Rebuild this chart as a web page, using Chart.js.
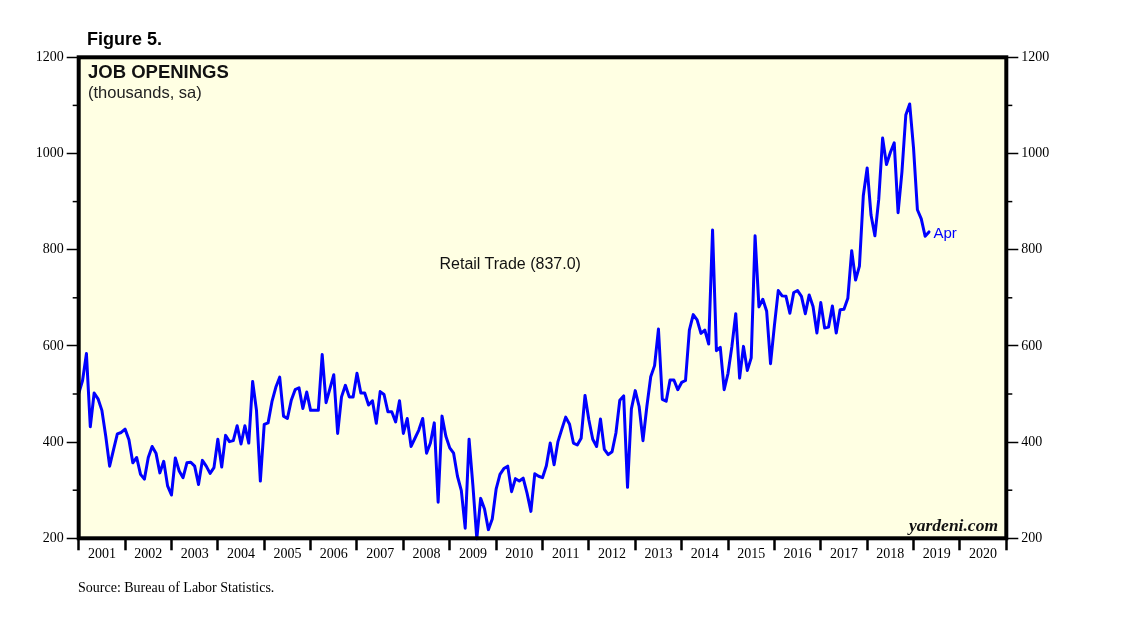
<!DOCTYPE html>
<html><head><meta charset="utf-8">
<script src="https://cdn.jsdelivr.net/npm/chart.js@4"></script>
<style>
html,body{margin:0;padding:0;background:#fff;}
#wrap{position:relative;width:1138px;height:621px;overflow:hidden;background:#fff;}
#c{position:absolute;left:0;top:0;}
.t{position:absolute;white-space:nowrap;line-height:1;}
.sans{font-family:'Liberation Sans',Arial,sans-serif;}
.serif{font-family:'Liberation Serif','Times New Roman',serif;}
</style></head><body>
<div id="wrap">
<canvas id="c" width="1138" height="621"></canvas>
<div class="t sans" style="left:87px;top:30px;font-size:18px;font-weight:bold;color:#000;">Figure 5.</div>
<div class="t sans" style="left:88px;top:62.5px;font-size:18.5px;font-weight:bold;color:#111;">JOB OPENINGS</div>
<div class="t sans" style="left:88px;top:83.5px;font-size:16.5px;color:#222;">(thousands, sa)</div>
<div class="t sans" style="left:439.5px;top:256.3px;font-size:16px;color:#111;">Retail Trade (837.0)</div>
<div class="t sans" style="left:933.5px;top:224.6px;font-size:15px;color:#0000ff;">Apr</div>
<div class="t serif" style="right:140px;top:517.3px;font-size:17.5px;font-weight:bold;font-style:italic;color:#111;">yardeni.com</div>
<div class="t serif" style="left:78px;top:580.5px;font-size:14px;color:#000;">Source: Bureau of Labor Statistics.</div>
</div>
<script>
// Year labels on the x axis (one per year, centred between year ticks)
const yearLabels = ['2001','2002','2003','2004','2005','2006','2007','2008','2009','2010',
                    '2011','2012','2013','2014','2015','2016','2017','2018','2019','2020'];
// Monthly job openings, retail trade (thousands, sa), Dec 2000 .. Apr 2019
const jobOpenings = [
  501, 528, 584, 432, 502, 490, 466, 412, 350, 384, 417, 420,
  427, 405, 357, 368, 333, 323, 368, 391, 377, 336, 360, 309,
  290, 367, 340, 326, 357, 358, 350, 312, 362, 350, 335, 347,
  406, 348, 414, 401, 403, 434, 396, 434, 398, 526, 466, 319,
  437, 440, 484, 514, 535, 454, 449, 487, 509, 513, 470, 504,
  466, 466, 466, 582, 482, 511, 540, 418, 494, 518, 494, 494,
  543, 502, 502, 477, 486, 439, 505, 499, 463, 463, 442, 486,
  418, 449, 391, 408, 425, 449, 377, 398, 440, 275, 454, 412,
  388, 377, 329, 299, 221, 406, 309, 199, 283, 261, 218, 240,
  302, 333, 345, 350, 297, 324, 319, 325, 294, 256, 334, 329,
  326, 351, 398, 353, 401, 427, 452, 437, 398, 394, 408, 497,
  446, 406, 391, 448, 385, 374, 380, 419, 487, 496, 306, 469,
  507, 474, 403, 474, 536, 559, 635, 489, 485, 529, 529, 509,
  524, 528, 633, 665, 654, 626, 633, 604, 841, 590, 597, 509,
  543, 599, 667, 533, 599, 549, 575, 829, 681, 697, 672, 563,
  642, 715, 704, 703, 668, 711, 715, 703, 667, 706, 682, 627,
  690, 637, 639, 683, 627, 675, 676, 699, 798, 737, 766, 912,
  970, 872, 829, 905, 1032, 977, 1002, 1022, 877, 962, 1080, 1103,
  1011, 883, 864, 828, 837
];
const yMajorTicks = [200, 400, 600, 800, 1000, 1200];
const yMinorTicks = [300, 500, 700, 900, 1100];
const monthsPerYear = 12;

const points = jobOpenings.map((v, i) => ({x: i, y: v}));
const xMax = yearLabels.length * monthsPerYear;

const framePlugin = {
  id: 'frame',
  beforeDraw(chart) {
    const a = chart.chartArea, ctx = chart.ctx;
    ctx.save();
    ctx.fillStyle = '#ffffe3';
    ctx.fillRect(a.left, a.top, a.right - a.left, a.bottom - a.top);
    ctx.restore();
  },
  afterDraw(chart) {
    const a = chart.chartArea, ctx = chart.ctx;
    ctx.save();
    ctx.strokeStyle = '#000';
    ctx.lineWidth = 1.5;
    const yl = chart.scales.y, yr = chart.scales.y2;
    yMinorTicks.forEach(v => {
      const py = yl.getPixelForValue(v);
      ctx.beginPath(); ctx.moveTo(a.left - 6, py); ctx.lineTo(a.left, py); ctx.stroke();
      const pr = yr.getPixelForValue(v);
      ctx.beginPath(); ctx.moveTo(a.right, pr); ctx.lineTo(a.right + 6, pr); ctx.stroke();
    });
    ctx.lineWidth = 4;
    ctx.strokeRect(a.left, a.top, a.right - a.left, a.bottom - a.top);
    ctx.restore();
  }
};

const tickFont = {family: "'Liberation Serif','Times New Roman',serif", size: 14};

new Chart(document.getElementById('c'), {
  type: 'line',
  data: {
    datasets: [{
      data: points,
      borderColor: '#0000ff',
      borderWidth: 3,
      borderJoinStyle: 'round',
      borderCapStyle: 'round',
      pointRadius: 0,
      tension: 0,
      clip: 4
    }]
  },
  options: {
    responsive: false,
    animation: false,
    devicePixelRatio: 1,
    layout: {padding: {left: 18.7, right: 71.7, top: 57.3, bottom: 52.7}},
    plugins: {legend: {display: false}, tooltip: {enabled: false}, title: {display: false}},
    scales: {
      x: {
        type: 'linear', position: 'bottom', min: 0, max: xMax,
        ticks: {
          stepSize: monthsPerYear / 2, autoSkip: false, maxRotation: 0, minRotation: 0,
          padding: -4, font: tickFont, color: '#000',
          callback: v => (v % monthsPerYear === monthsPerYear / 2) ? yearLabels[(v - monthsPerYear / 2) / monthsPerYear] : ''
        },
        grid: {
          drawOnChartArea: false, drawTicks: true, tickLength: 12, tickWidth: 2.5,
          tickColor: c => (c.tick && c.tick.value % monthsPerYear === 0) ? '#000' : 'rgba(0,0,0,0)'
        },
        border: {display: false},
        afterFit: s => { s.height = 30; }
      },
      y: {
        type: 'linear', position: 'left', min: 200, max: 1200,
        afterBuildTicks: s => { s.ticks = yMajorTicks.map(v => ({value: v})); },
        ticks: {padding: 3, font: tickFont, color: '#000', callback: v => String(v)},
        grid: {drawOnChartArea: false, tickLength: 12, tickWidth: 1.5, tickColor: '#000'},
        border: {display: false},
        afterFit: s => { s.width = 60; }
      },
      y2: {
        type: 'linear', position: 'right', min: 200, max: 1200,
        afterBuildTicks: s => { s.ticks = yMajorTicks.map(v => ({value: v})); },
        ticks: {padding: 3, font: tickFont, color: '#000', callback: v => String(v)},
        grid: {drawOnChartArea: false, tickLength: 12, tickWidth: 1.5, tickColor: '#000'},
        border: {display: false},
        afterFit: s => { s.width = 60; }
      }
    }
  },
  plugins: [framePlugin]
});
</script>
</body></html>
